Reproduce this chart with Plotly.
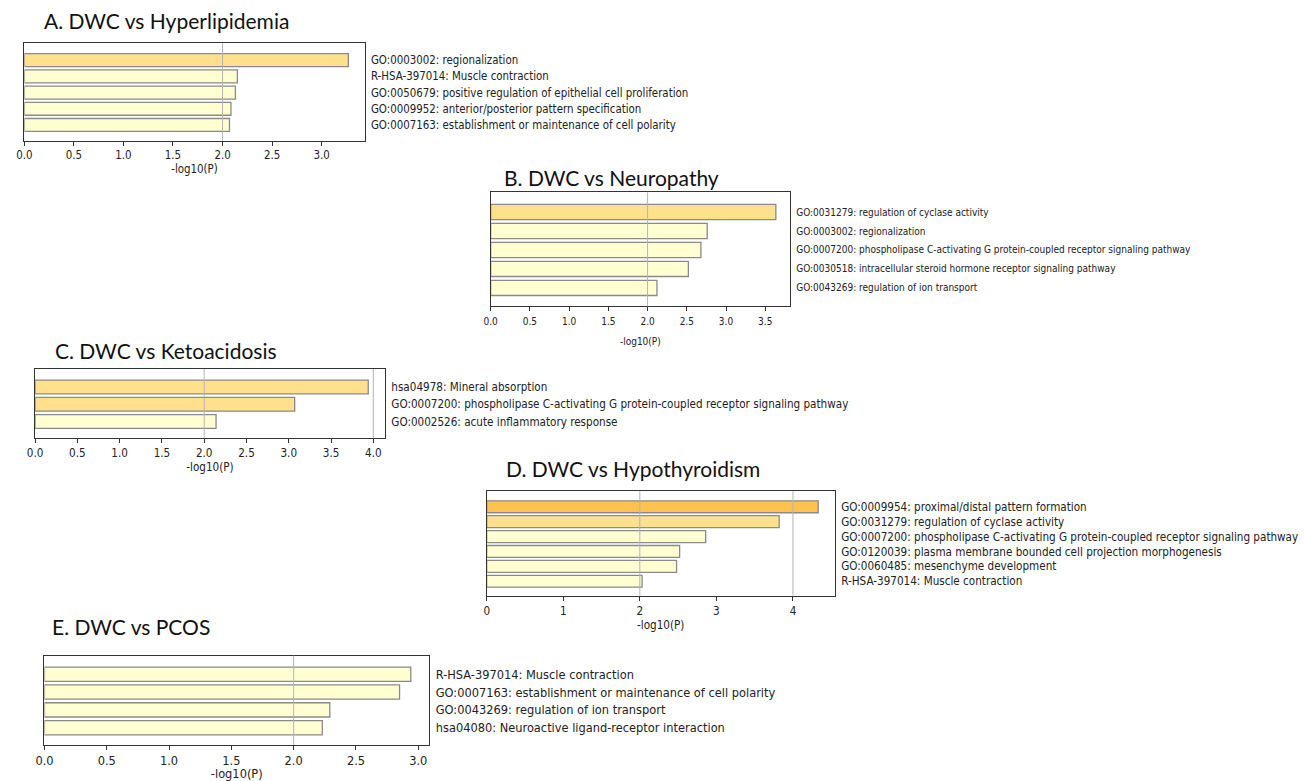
import plotly.graph_objects as go

# ---------------- data ----------------
A_title = "A. DWC vs Hyperlipidemia"
A_terms = ["GO:0003002: regionalization",
           "R-HSA-397014: Muscle contraction",
           "GO:0050679: positive regulation of epithelial cell proliferation",
           "GO:0009952: anterior/posterior pattern specification",
           "GO:0007163: establishment or maintenance of cell polarity"]
A_values = [3.27, 2.15, 2.13, 2.085, 2.07]

B_title = "B. DWC vs Neuropathy"
B_terms = ["GO:0031279: regulation of cyclase activity",
           "GO:0003002: regionalization",
           "GO:0007200: phospholipase C-activating G protein-coupled receptor signaling pathway",
           "GO:0030518: intracellular steroid hormone receptor signaling pathway",
           "GO:0043269: regulation of ion transport"]
B_values = [3.635, 2.76, 2.68, 2.52, 2.12]

C_title = "C. DWC vs Ketoacidosis"
C_terms = ["hsa04978: Mineral absorption",
           "GO:0007200: phospholipase C-activating G protein-coupled receptor signaling pathway",
           "GO:0002526: acute inflammatory response"]
C_values = [3.94, 3.07, 2.14]

D_title = "D. DWC vs Hypothyroidism"
D_terms = ["GO:0009954: proximal/distal pattern formation",
           "GO:0031279: regulation of cyclase activity",
           "GO:0007200: phospholipase C-activating G protein-coupled receptor signaling pathway",
           "GO:0120039: plasma membrane bounded cell projection morphogenesis",
           "GO:0060485: mesenchyme development",
           "R-HSA-397014: Muscle contraction"]
D_values = [4.33, 3.82, 2.86, 2.52, 2.48, 2.03]

E_title = "E. DWC vs PCOS"
E_terms = ["R-HSA-397014: Muscle contraction",
           "GO:0007163: establishment or maintenance of cell polarity",
           "GO:0043269: regulation of ion transport",
           "hsa04080: Neuroactive ligand-receptor interaction"]
E_values = [2.94, 2.85, 2.29, 2.23]

X_LABEL = "-log10(P)"
THRESHOLDS = [2, 4]

# ---------------- layout / style ----------------
W, H = 1309, 781
LABEL_FONT = "DejaVu Sans Condensed, DejaVu Sans, sans-serif"
TITLE_FONT = "Lato, Open Sans, sans-serif"

# (title, terms, values, box px [x0, x1, y0, y1], dtick, tickformat, font size,
#  title pos px, xlabel standoff, x tick label standoff)
panels = [
    (A_title, A_terms, A_values, (15.5, 358, 43.3, 140.7), 0.5, ".1f", 11.4, (33.5, 20), 2, 0),
    (B_title, B_terms, B_values, (485.0, 786.5, 192.3, 306.3), 0.5, ".1f", 10.0, (496.5, 178), 11, 2),
    (C_title, C_terms, C_values, (26.3, 378.5, 369, 438.3), 0.5, ".1f", 11.6, (43.9, 350.7), 2, 0),
    (D_title, D_terms, D_values, (481.0, 831.5, 491.3, 595.7), 1, "d", 11.6, (498, 468.3), 0, 0),
    (E_title, E_terms, E_values, (35.7, 423, 655.7, 745), 0.5, ".1f", 12.7, (40.8, 626), 1, 0),
]


def bar_color(v):
    if v >= 4:
        return "#FFC24E"
    if v >= 3:
        return "#FFE08D"
    return "#FFFFD2"


fig = go.Figure()
annotations = []
shapes = []
layout_axes = {}

for i, (title, terms, values, box, dtick, tfmt, fs, tpos, standoff, xstand) in enumerate(panels, start=1):
    xa = "x" if i == 1 else f"x{i}"
    ya = "y" if i == 1 else f"y{i}"
    n = len(terms)
    fig.add_trace(go.Bar(
        x=values, y=terms, orientation="h",
        xaxis=xa, yaxis=ya,
        width=0.8,
        marker=dict(color=[bar_color(v) for v in values],
                    line=dict(color="#8a8a8a", width=1.3)),
        showlegend=False, hoverinfo="x+y",
    ))
    x0, x1, y0, y1 = box
    xmax = max(values) * 1.05
    layout_axes["xaxis" if i == 1 else f"xaxis{i}"] = dict(
        domain=[x0 / W, x1 / W], anchor=ya, range=[0, xmax],
        dtick=dtick, tick0=0, tickformat=tfmt,
        showgrid=False, zeroline=False,
        showline=True, mirror=True, linecolor="#333333", linewidth=1.2,
        ticks="outside", ticklen=4, tickcolor="#333333", tickwidth=1,
        ticklabelstandoff=xstand,
        tickfont=dict(family=LABEL_FONT, size=fs, color="#222222"),
        title=dict(text=X_LABEL, standoff=standoff,
                   font=dict(family=LABEL_FONT, size=fs, color="#222222")),
        fixedrange=True,
    )
    layout_axes["yaxis" if i == 1 else f"yaxis{i}"] = dict(
        domain=[1 - y1 / H, 1 - y0 / H], anchor=xa, side="right",
        type="category", categoryorder="array", categoryarray=terms,
        range=[n - 0.03, -1.04],
        showgrid=False, zeroline=False,
        showline=True, mirror=True, linecolor="#333333", linewidth=1.2,
        ticks="", ticklabelstandoff=3,
        tickfont=dict(family=LABEL_FONT, size=fs, color="#222222"),
        fixedrange=True,
    )
    for t in THRESHOLDS:
        if t < xmax:
            shapes.append(dict(type="line", xref=xa, yref=f"{ya} domain",
                               x0=t, x1=t, y0=0, y1=1, layer="above",
                               line=dict(color="#b4b4b4", width=1)))
    annotations.append(dict(text=title, xref="paper", yref="paper",
                            x=tpos[0] / W, y=1 - tpos[1] / H,
                            xanchor="left", yanchor="middle", showarrow=False,
                            font=dict(family=TITLE_FONT, size=21, color="#111111")))

fig.update_layout(
    width=W, height=H,
    margin=dict(l=0, r=0, t=0, b=0),
    paper_bgcolor="white", plot_bgcolor="white",
    bargap=0.2,
    annotations=annotations, shapes=shapes,
    **layout_axes,
)

fig.write_html("out.html", config={"displayModeBar": False},
               post_script="document.body.style.margin='0';document.body.style.overflow='hidden';")
